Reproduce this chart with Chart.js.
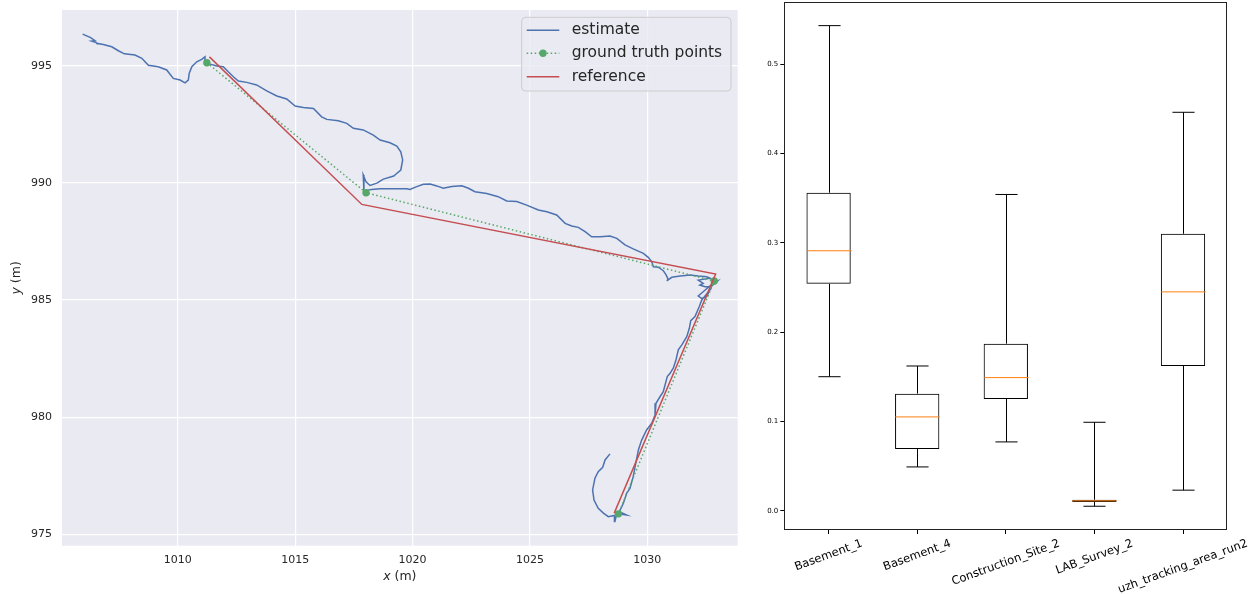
<!DOCTYPE html>
<html><head><meta charset="utf-8">
<script src="https://cdn.jsdelivr.net/npm/chart.js@4"></script>
<style>
html,body{margin:0;padding:0;background:#fff;overflow:hidden;}
#left{position:absolute;left:0;top:0;width:745px;height:594px;}
#right{position:absolute;left:745px;top:0;width:511px;height:594px;}
</style></head><body>
<div id="left"><canvas id="c1"></canvas></div>
<div id="right"><canvas id="c2"></canvas></div>
<script>
// ---------- Left chart data (trajectory) ----------
const estX = [1005.95,1006.27,1006.48,1006.33,1006.52,1006.55,1006.83,1007.19,1007.47,1007.73,
1008.18,1008.47,1008.75,1009.17,1009.53,1009.81,1010.10,1010.31,1010.45,1010.49,
1010.60,1010.81,1011.02,1011.16,1011.16,1011.38,1011.66,1011.94,1012.15,1012.37,
1012.58,1012.94,1013.36,1013.79,1014.22,1014.64,1015.00,1015.35,1015.78,1016.13,
1016.35,1016.84,1017.20,1017.48,1017.90,1018.33,1018.62,1019.04,1019.33,1019.50,
1019.58,1019.50,1019.30,1019.20,1018.76,1018.48,1018.19,1018.02,1017.90,1017.93,
1018.10,1018.26,1018.62,1019.18,1019.75,1019.89,1020.18,1020.46,1020.75,1021.03,
1021.31,1021.67,1022.10,1022.38,1022.66,1023.16,1023.65,1024.01,1024.44,1024.86,
1025.36,1025.72,1026.14,1026.50,1026.78,1027.06,1027.35,1027.63,1027.99,1028.41,
1028.70,1029.05,1029.40,1029.83,1030.04,1030.19,1030.26,1030.47,1030.68,1030.80,
1030.89,1030.83,1031.04,1031.40,1031.82,1032.17,1032.53,1032.67,1032.17,1032.38,
1032.24,1032.46,1032.67,1032.89,1032.97,1032.76,1032.38,1032.17,1032.31,1032.53,
1032.67,1032.32,1032.21,1032.03,1031.85,1031.79,1031.68,1031.47,1031.32,1031.22,
1031.11,1030.97,1030.85,1030.68,1030.54,1030.37,1030.33,1030.19,1029.97,1029.76,
1029.62,1029.48,1029.40,1029.26,1029.12,1028.98,1028.81,1029.12,1028.75,1028.67,
1028.62,1028.60,1028.34,1028.13,1027.91,1027.73,1027.67,1027.77,1027.91,1028.10,
1028.20,1028.41];
const estY = [996.35,996.21,996.07,996.05,995.99,995.96,995.91,995.81,995.64,995.51,
995.46,995.32,995.02,994.96,994.82,994.46,994.39,994.27,994.39,994.68,
994.96,995.17,995.27,995.38,995.17,995.07,994.99,994.96,994.74,994.53,
994.35,994.29,994.18,993.93,993.71,993.58,993.28,993.22,993.18,992.82,
992.71,992.65,992.54,992.33,992.26,992.04,991.83,991.71,991.57,991.33,
990.98,990.55,990.38,990.29,990.16,989.99,989.89,990.04,990.34,989.61,
989.69,989.72,989.75,989.75,989.75,989.72,989.84,989.94,989.95,989.87,
989.77,989.84,989.88,989.77,989.62,989.55,989.41,989.23,989.20,989.05,
988.84,988.77,988.63,988.27,988.16,988.10,987.92,987.70,987.70,987.73,
987.63,987.35,987.18,986.99,986.82,986.63,986.42,986.40,986.25,986.07,
985.88,985.82,985.97,986.02,986.07,986.02,985.99,985.93,985.85,985.71,
985.64,985.57,985.57,985.71,985.79,985.68,985.35,985.17,985.07,985.14,
985.43,985.00,984.71,984.29,984.12,983.79,983.43,983.08,982.87,982.44,
982.10,981.87,981.73,981.09,980.87,980.59,980.09,979.74,979.45,979.02,
978.60,977.89,977.46,976.96,976.75,976.32,975.96,975.82,975.87,975.75,
975.54,975.80,975.75,975.90,976.11,976.46,976.89,977.39,977.67,977.86,
978.17,978.43];
const gtX = [1011.24, 1018.02, 1032.85, 1028.77];
const gtY = [995.13, 989.58, 985.81, 975.87];
const refX = [1011.35, 1017.84, 1032.91, 1028.59];
const refY = [995.38, 989.08, 986.11, 975.90];
const seriesNames = ['estimate', 'ground truth points', 'reference'];
const xTickStep = 5, yTickStep = 5;

// ---------- Right chart data (box plot) ----------
const categories = ['Basement_1','Basement_4','Construction_Site_2','LAB_Survey_2','uzh_tracking_area_run2'];
const whiskerLow  = [0.150, 0.049, 0.077, 0.005, 0.023];
const q1          = [0.254, 0.069, 0.125, 0.0097, 0.162];
const median      = [0.291, 0.105, 0.149, 0.011, 0.245];
const q3          = [0.356, 0.131, 0.187, 0.0123, 0.310];
const whiskerHigh = [0.543, 0.162, 0.354, 0.099, 0.446];
const boxTickStep = 0.1;

const FONT = "'DejaVu Sans', sans-serif";
const COL = {est:'#4C72B0', gt:'#55A868', ref:'#C44E52'};

const pts = (xs, ys) => xs.map((x, i) => ({x, y: ys[i]}));
function noPad(s) { s.paddingTop = 0; s.paddingBottom = 0; s.paddingLeft = 0; s.paddingRight = 0; }

const bgPlugin = {
  id: 'bg',
  beforeDraw(chart) {
    const {ctx, chartArea: a} = chart;
    ctx.save();
    ctx.fillStyle = '#EAEAF2';
    ctx.fillRect(a.left, a.top, a.right - a.left, a.bottom - a.top);
    ctx.restore();
  }
};

function drawMixed(ctx, parts, cx, cy) {
  let total = 0;
  parts.forEach(p => { ctx.font = p[1]; total += ctx.measureText(p[0]).width; });
  let x = cx - total / 2;
  ctx.textAlign = 'left';
  ctx.textBaseline = 'middle';
  parts.forEach(p => { ctx.font = p[1]; ctx.fillText(p[0], x, cy); x += ctx.measureText(p[0]).width; });
}

const leftDecor = {
  id: 'leftDecor',
  afterDraw(chart) {
    const {ctx, chartArea: a} = chart;
    ctx.save();
    ctx.fillStyle = '#262626';
    const it = "italic 12.5px " + FONT, nm = "12.5px " + FONT;
    drawMixed(ctx, [['x', it], [' (m)', nm]], (a.left + a.right) / 2, a.bottom + 31.5);
    ctx.save();
    ctx.translate(17, (a.top + a.bottom) / 2);
    ctx.rotate(-Math.PI / 2);
    drawMixed(ctx, [['y', it], [' (m)', nm]], 0, 0);
    ctx.restore();

    // legend
    const bx = a.right - 6.7 - 209.3, by = a.top + 7.3, bw = 209.3, bh = 73.7, r = 4;
    ctx.beginPath();
    ctx.moveTo(bx + r, by);
    ctx.arcTo(bx + bw, by, bx + bw, by + bh, r);
    ctx.arcTo(bx + bw, by + bh, bx, by + bh, r);
    ctx.arcTo(bx, by + bh, bx, by, r);
    ctx.arcTo(bx, by, bx + bw, by, r);
    ctx.closePath();
    ctx.fillStyle = 'rgba(234,234,242,0.8)';
    ctx.fill();
    ctx.strokeStyle = '#CCCCCC';
    ctx.lineWidth = 1;
    ctx.stroke();
    const rows = [by + 13, by + 36, by + 59.4];
    const cols = [COL.est, COL.gt, COL.ref];
    const hx0 = bx + 5, hx1 = bx + 37.6, tx = bx + 50;
    rows.forEach((ry, i) => {
      ctx.beginPath();
      ctx.strokeStyle = cols[i];
      ctx.lineWidth = 1.5;
      ctx.setLineDash(i === 1 ? [1.5, 2.5] : []);
      ctx.moveTo(hx0, ry); ctx.lineTo(hx1, ry);
      ctx.stroke();
      ctx.setLineDash([]);
      if (i === 1) {
        ctx.beginPath();
        ctx.fillStyle = cols[i];
        ctx.arc((hx0 + hx1) / 2, ry, 3.7, 0, Math.PI * 2);
        ctx.fill();
      }
      ctx.fillStyle = '#262626';
      ctx.font = "15.5px " + FONT;
      ctx.textAlign = 'left';
      ctx.textBaseline = 'middle';
      ctx.fillText(seriesNames[i], tx, ry);
    });
    ctx.restore();
  }
};

new Chart(document.getElementById('c1'), {
  type: 'scatter',
  data: {
    datasets: [
      {label: seriesNames[0], data: pts(estX, estY), showLine: true, borderColor: COL.est, borderWidth: 1.5,
       pointRadius: 0, tension: 0, order: 3},
      {label: seriesNames[1], data: pts(gtX, gtY), showLine: true, borderColor: COL.gt, borderWidth: 1.5,
       borderDash: [1.5, 2.5], pointRadius: 3.7, pointBackgroundColor: COL.gt, pointBorderWidth: 0, order: 2},
      {label: seriesNames[2], data: pts(refX, refY), showLine: true, borderColor: COL.ref, borderWidth: 1.5,
       pointRadius: 0, tension: 0, order: 1}
    ]
  },
  options: {
    responsive: true, maintainAspectRatio: false, animation: false, events: [],
    layout: {padding: {left: 0, top: 10, right: 7.3, bottom: 0}},
    plugins: {legend: {display: false}, tooltip: {enabled: false}},
    scales: {
      x: {type: 'linear', min: 1005.07, max: 1033.85,
          afterFit(s) { s.height = 48.3; noPad(s); },
          grid: {color: '#FFFFFF', lineWidth: 1.2, drawTicks: false},
          border: {display: false},
          ticks: {stepSize: xTickStep, includeBounds: false, padding: 8, color: '#262626',
                  font: {family: FONT, size: 11}, callback: v => String(v), maxRotation: 0}},
      y: {type: 'linear', min: 974.51, max: 997.38,
          afterFit(s) { s.width = 62; noPad(s); },
          grid: {color: '#FFFFFF', lineWidth: 1.2, drawTicks: false},
          border: {display: false},
          ticks: {stepSize: yTickStep, includeBounds: false, padding: 10, color: '#262626',
                  font: {family: FONT, size: 11}, callback: v => String(v)}}
    }
  },
  plugins: [bgPlugin, leftDecor]
});

// ---------- Right chart ----------
const boxDecor = {
  id: 'boxDecor',
  afterDatasetsDraw(chart) {
    const {ctx} = chart;
    const xs = chart.scales.x, ys = chart.scales.y;
    const cw = xs.getPixelForValue(1) - xs.getPixelForValue(0);
    ctx.save();
    ctx.lineWidth = 1;
    categories.forEach((c, i) => {
      const cx = Math.round(xs.getPixelForValue(i)) + 0.5;
      const yl = ys.getPixelForValue(whiskerLow[i]), y1 = ys.getPixelForValue(q1[i]);
      const y3 = ys.getPixelForValue(q3[i]), yh = ys.getPixelForValue(whiskerHigh[i]);
      const ym = ys.getPixelForValue(median[i]);
      ctx.strokeStyle = '#000';
      ctx.beginPath();
      ctx.moveTo(cx, y3); ctx.lineTo(cx, yh);
      ctx.moveTo(cx, y1); ctx.lineTo(cx, yl);
      ctx.moveTo(cx - cw * 0.125, yh); ctx.lineTo(cx + cw * 0.125, yh);
      ctx.moveTo(cx - cw * 0.125, yl); ctx.lineTo(cx + cw * 0.125, yl);
      ctx.stroke();
      ctx.strokeStyle = '#FF7F0E';
      ctx.beginPath();
      ctx.moveTo(cx - cw * 0.25, ym); ctx.lineTo(cx + cw * 0.25, ym);
      ctx.stroke();
    });
    ctx.restore();
  },
  afterDraw(chart) {
    const {ctx, chartArea: a} = chart;
    const xs = chart.scales.x;
    ctx.save();
    ctx.strokeStyle = '#222';
    ctx.lineWidth = 1;
    ctx.strokeRect(Math.round(a.left) + 0.5, Math.round(a.top) + 0.5,
                   Math.round(a.right - a.left) - 1, Math.round(a.bottom - a.top) - 1);
    const fs = 11.5, ang = 20 * Math.PI / 180;
    ctx.font = fs + "px " + FONT;
    ctx.fillStyle = '#000';
    ctx.textAlign = 'center';
    ctx.textBaseline = 'middle';
    const top = a.bottom + 7;
    categories.forEach((c, i) => {
      const L = ctx.measureText(c).width, h = fs * 1.164;
      const H = L * Math.sin(ang) + h * Math.cos(ang);
      const cx = xs.getPixelForValue(i);
      ctx.save();
      ctx.translate(cx, top + H / 2);
      ctx.rotate(-ang);
      ctx.fillText(c, 0, 0);
      ctx.restore();
    });
    ctx.restore();
  }
};

new Chart(document.getElementById('c2'), {
  type: 'bar',
  data: {
    labels: categories,
    datasets: [{label: 'IQR', data: q1.map((v, i) => [v, q3[i]]), backgroundColor: 'rgba(255,255,255,0)',
                borderColor: '#000', borderWidth: 1, borderSkipped: false,
                barPercentage: 0.5, categoryPercentage: 1.0}]
  },
  options: {
    responsive: true, maintainAspectRatio: false, animation: false, events: [],
    layout: {padding: {left: 0, top: 1.7, right: 28.7, bottom: 0}},
    plugins: {legend: {display: false}, tooltip: {enabled: false}},
    scales: {
      x: {afterFit(s) { s.height = 64; noPad(s); },
          grid: {offset: false, drawOnChartArea: false, tickLength: 4, color: '#000'},
          border: {display: false},
          ticks: {display: false}},
      y: {min: -0.0216, max: 0.5698,
          afterFit(s) { s.width = 39.3; noPad(s); },
          grid: {drawOnChartArea: false, tickLength: 4, color: '#000'},
          border: {display: false},
          ticks: {stepSize: boxTickStep, includeBounds: false, padding: 2, color: '#000',
                  font: {family: FONT, size: 7}, callback: v => v.toFixed(1)}}
    }
  },
  plugins: [boxDecor]
});
</script>
</body></html>
